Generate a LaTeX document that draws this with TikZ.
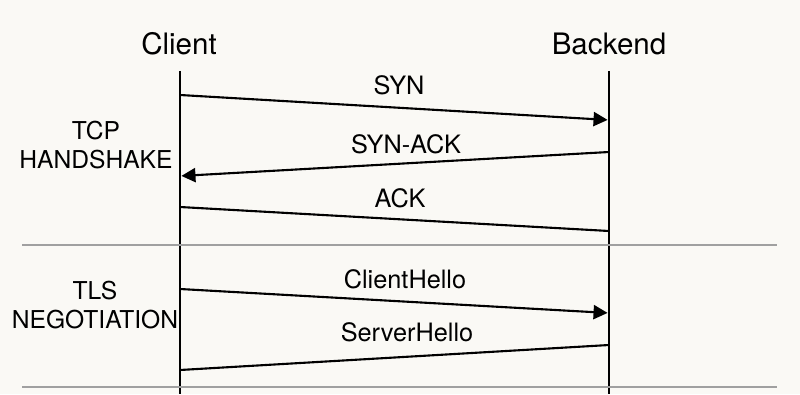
\documentclass[tikz,border=0pt]{standalone}
\usepackage{fontspec}
\setmainfont{TeX Gyre Heros}
\usetikzlibrary{arrows.meta}
\definecolor{paper}{HTML}{FAF9F5}
\definecolor{rulegray}{HTML}{A0A0A0}
\begin{document}
\begin{tikzpicture}[x=0.025cm,y=-0.025cm,
  actor/.style={font=\fontsize{21}{24}\selectfont},
  lbl/.style={font=\fontsize{18}{21}\selectfont},
  phase/.style={font=\fontsize{17.5}{20}\selectfont,align=center},
  life/.style={line width=1.9pt},
  msg/.style={line width=1.5pt,-{Triangle[length=10pt,width=10pt]},shorten >=1pt},
  plainmsg/.style={line width=1.5pt},
  sep/.style={line width=1.1pt,rulegray}]
  \fill[paper] (0,0) rectangle (800,394);
  \useasboundingbox (0,0) rectangle (800,394);

  % lifelines
  \node[actor] (client) at (179,44) {Client};
  \node[actor] (backend) at (609,44) {Backend};
  \coordinate (cTop) at (180,71);  \coordinate (cBot) at (180,394);
  \coordinate (bTop) at (609,71);  \coordinate (bBot) at (609,394);
  \draw[life] (cTop) -- (cBot);
  \draw[life] (bTop) -- (bBot);

  % phase separators
  \coordinate (s1l) at (22,245);  \coordinate (s1r) at (777,245);
  \coordinate (s2l) at (22,387);  \coordinate (s2r) at (777,387);
  \draw[sep] (s1l) -- (s1r);
  \draw[sep] (s2l) -- (s2r);

  \node[phase] (tcp) at (96,145) {TCP\\HANDSHAKE};
  \node[phase] (tls) at (95,305) {TLS\\NEGOTIATION};

  % messages
  \foreach \n/\y in {syn/95,ack/207,ch/289}{
    \coordinate (\n C) at (180,\y);}
  \coordinate (synB) at (609,120);
  \coordinate (ackB) at (609,231);
  \coordinate (chB) at (609,313);
  \coordinate (saB) at (609,152);  \coordinate (saC) at (180,176);
  \coordinate (shB) at (609,345);  \coordinate (shC) at (180,370);

  \draw[msg] (synC) -- (synB);
  \draw[msg] (saB) -- (saC);
  \draw[plainmsg] (ackC) -- (ackB);
  \draw[msg] (chC) -- (chB);
  \draw[plainmsg] (shB) -- (shC);

  \node[lbl] (synL) at (399,85) {SYN};
  \node[lbl] (saL) at (406,144) {SYN-ACK};
  \node[lbl] (ackL) at (400,198) {ACK};
  \node[lbl] (chL) at (405,279) {ClientHello};
  \node[lbl] (shL) at (407,332) {ServerHello};
\end{tikzpicture}
\end{document}
